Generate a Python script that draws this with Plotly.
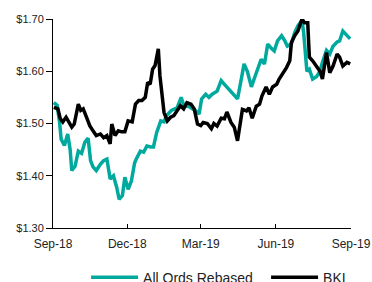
import plotly.graph_objects as go

ords_dates = ["2018-09-02","2018-09-06","2018-09-09","2018-09-11","2018-09-15","2018-09-19","2018-09-22","2018-09-24","2018-09-28",
"2018-10-02","2018-10-06","2018-10-10","2018-10-14","2018-10-17","2018-10-20","2018-10-24","2018-10-29",
"2018-11-02","2018-11-06","2018-11-10","2018-11-14","2018-11-18","2018-11-21","2018-11-25","2018-11-28",
"2018-12-02","2018-12-06","2018-12-10","2018-12-12","2018-12-17","2018-12-21","2018-12-25","2018-12-30",
"2019-01-02","2019-01-06","2019-01-11","2019-01-15","2019-01-18","2019-01-24","2019-01-31",
"2019-02-05","2019-02-08","2019-02-12","2019-02-14","2019-02-23","2019-02-27",
"2019-03-02","2019-03-07","2019-03-11","2019-03-15","2019-03-21","2019-03-26","2019-03-30",
"2019-04-02","2019-04-07","2019-04-11","2019-04-15","2019-04-20","2019-04-23","2019-04-27",
"2019-05-02","2019-05-06","2019-05-09","2019-05-14","2019-05-18","2019-05-22","2019-05-27","2019-05-30",
"2019-06-03","2019-06-08","2019-06-12","2019-06-15","2019-06-20","2019-06-24","2019-06-28",
"2019-07-03","2019-07-05","2019-07-09","2019-07-12","2019-07-16","2019-07-21","2019-07-25","2019-07-28",
"2019-08-02","2019-08-06","2019-08-10","2019-08-15","2019-08-18","2019-08-22","2019-08-27","2019-08-31"]
ords_values = [1.540,1.535,1.503,1.470,1.458,1.480,1.450,1.410,1.418,
1.447,1.443,1.464,1.472,1.429,1.417,1.410,1.422,
1.429,1.432,1.394,1.400,1.378,1.355,1.362,1.397,
1.374,1.390,1.425,1.432,1.447,1.445,1.457,1.455,
1.455,1.483,1.505,1.503,1.515,1.525,1.530,
1.550,1.535,1.533,1.533,1.524,1.518,
1.547,1.556,1.550,1.556,1.562,1.582,1.575,
1.570,1.562,1.556,1.547,1.588,1.614,1.600,
1.570,1.588,1.600,1.623,1.614,1.652,1.643,1.639,
1.658,1.668,1.658,1.648,1.652,1.674,1.687,
1.697,1.674,1.600,1.604,1.585,1.590,1.600,1.617,
1.640,1.633,1.648,1.656,1.658,1.677,1.668,1.662]

bki_dates = ["2018-09-02","2018-09-07","2018-09-10","2018-09-13","2018-09-17","2018-09-20","2018-09-24","2018-09-27",
"2018-10-02","2018-10-05","2018-10-08","2018-10-12","2018-10-16","2018-10-20","2018-10-24","2018-10-29",
"2018-11-02","2018-11-06","2018-11-10","2018-11-12","2018-11-16","2018-11-20","2018-11-24","2018-11-28",
"2018-12-02","2018-12-07","2018-12-11","2018-12-15","2018-12-19","2018-12-23","2018-12-26","2018-12-29",
"2019-01-01","2019-01-04","2019-01-08","2019-01-10","2019-01-13","2019-01-15","2019-01-19","2019-01-23","2019-01-27","2019-01-31",
"2019-02-04","2019-02-08","2019-02-12","2019-02-17","2019-02-21","2019-02-25",
"2019-03-01","2019-03-04","2019-03-09","2019-03-14","2019-03-17","2019-03-21","2019-03-26","2019-03-30",
"2019-04-02","2019-04-07","2019-04-11","2019-04-15","2019-04-18","2019-04-21","2019-04-26","2019-04-29",
"2019-05-03","2019-05-08","2019-05-12","2019-05-15","2019-05-20","2019-05-24","2019-05-28",
"2019-06-02","2019-06-05","2019-06-09","2019-06-14","2019-06-18","2019-06-20","2019-06-24","2019-06-28",
"2019-07-03","2019-07-06","2019-07-10","2019-07-12","2019-07-16","2019-07-21","2019-07-25","2019-07-28",
"2019-08-02","2019-08-06","2019-08-10","2019-08-15","2019-08-18","2019-08-22","2019-08-27","2019-08-31"]
bki_values = [1.531,1.528,1.509,1.503,1.512,1.505,1.493,1.499,
1.537,1.525,1.528,1.512,1.496,1.486,1.477,1.480,
1.473,1.477,1.461,1.499,1.477,1.486,1.484,1.484,
1.505,1.503,1.537,1.544,1.544,1.550,1.579,1.575,
1.604,1.611,1.643,1.591,1.544,1.521,1.505,1.512,1.515,1.524,
1.534,1.528,1.540,1.537,1.528,1.499,
1.496,1.502,1.500,1.490,1.500,1.495,1.510,1.509,
1.522,1.502,1.493,1.467,1.502,1.527,1.524,1.530,
1.510,1.533,1.537,1.553,1.570,1.556,1.570,
1.575,1.585,1.594,1.607,1.620,1.655,1.668,1.677,
1.700,1.693,1.693,1.627,1.620,1.610,1.600,1.585,
1.636,1.597,1.610,1.633,1.627,1.610,1.617,1.614]

y_ticks = [1.30, 1.40, 1.50, 1.60, 1.70]
y_tick_labels = ["$1.30", "$1.40", "$1.50", "$1.60", "$1.70"]
x_ticks = ["2018-09-01","2018-12-01","2019-03-01","2019-06-01","2019-09-01"]
x_tick_labels = ["Sep-18", "Dec-18", "Mar-19", "Jun-19", "Sep-19"]

fig = go.Figure()
fig.add_trace(go.Scatter(x=ords_dates, y=ords_values, mode="lines", name="All Ords Rebased",
                         line=dict(color="#00A99D", width=3.5), legend="legend"))
fig.add_trace(go.Scatter(x=bki_dates, y=bki_values, mode="lines", name="BKI",
                         line=dict(color="#000000", width=3.5), legend="legend2"))

FONT = "Liberation Sans, Arial, sans-serif"
leg_common = dict(orientation="h", xanchor="left", y=-0.237, yanchor="middle",
                  font=dict(family=FONT, size=14, color="#222222"),
                  itemwidth=47, tracegroupgap=0, bgcolor="rgba(0,0,0,0)")
fig.update_layout(
    width=372, height=282,
    margin=dict(l=53, r=21, t=19, b=54, autoexpand=False),
    paper_bgcolor="white", plot_bgcolor="white",
    font=dict(family=FONT, size=12, color="#222222"),
    showlegend=True,
    legend=dict(x=0.111, **leg_common),
    legend2=dict(x=0.715, **leg_common),
    xaxis=dict(type="date", range=["2018-09-01","2019-09-01"], tickvals=x_ticks, ticktext=x_tick_labels,
               ticks="inside", ticklen=4, tickcolor="black", ticklabelstandoff=5,
               ticklabeloverflow="allow", tickfont=dict(size=12),
               showline=True, linecolor="black", linewidth=1, showgrid=False, zeroline=False),
    yaxis=dict(range=[1.30, 1.70], tickvals=y_ticks, ticktext=y_tick_labels,
               ticks="outside", ticklen=6, tickcolor="black", tickfont=dict(size=11),
               showline=True, linecolor="black", linewidth=1, showgrid=False, zeroline=False),
)
fig.write_html("out.html", config={"displayModeBar": False},
               post_script="document.body.style.margin='0';document.documentElement.style.overflow='hidden';")
